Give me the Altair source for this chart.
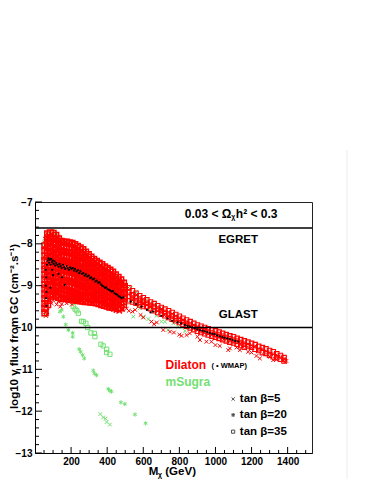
import altair as alt
import pandas as pd

# ---------------- data ----------------
# Dilaton, dense cloud: open squares, columns (GeV) -> log10 flux values
red_sq_cols = {
    55: [-8.05, -8.16, -8.29, -8.4, -8.52, -8.61, -8.74, -8.85, -8.97, -9.08, -9.2, -9.31, -9.43, -9.54, -9.65],
    70: [-7.76, -7.86, -7.98, -8.09, -8.21, -8.3, -8.43, -8.55, -8.66, -8.77, -8.89, -9.0, -9.12, -9.23, -9.35, -9.45],
    85: [-7.74, -7.85, -7.95, -8.07, -8.18, -8.3, -8.41, -8.52, -8.64, -8.75, -8.86, -8.98, -9.1, -9.22],
    100: [-7.75, -7.87, -7.97, -8.1, -8.2, -8.32, -8.44, -8.55, -8.67, -8.78, -8.9, -9.01, -9.12, -9.2],
    115: [-7.8, -7.9, -8.02, -8.13, -8.25, -8.36, -8.47, -8.58, -8.7, -8.81, -8.93, -9.04, -9.15, -9.25],
    130: [-7.88, -7.99, -8.1, -8.21, -8.33, -8.44, -8.56, -8.67, -8.78, -8.9, -9.01, -9.13, -9.22, -9.28],
    145: [-7.94, -8.05, -8.17, -8.28, -8.39, -8.5, -8.62, -8.73, -8.85, -8.96, -9.07, -9.19, -9.3],
    160: [-7.96, -8.07, -8.19, -8.3, -8.41, -8.53, -8.64, -8.75, -8.87, -8.98, -9.1, -9.21, -9.3],
    175: [-7.96, -8.08, -8.2, -8.31, -8.42, -8.54, -8.66, -8.77, -8.88, -9.0, -9.11, -9.22, -9.31],
    190: [-7.98, -8.09, -8.21, -8.33, -8.44, -8.55, -8.67, -8.78, -8.9, -9.01, -9.13, -9.24, -9.32],
    205: [-7.99, -8.1, -8.22, -8.34, -8.45, -8.57, -8.68, -8.8, -8.91, -9.03, -9.14, -9.25, -9.33],
    220: [-8.02, -8.13, -8.25, -8.36, -8.47, -8.59, -8.7, -8.82, -8.93, -9.04, -9.16, -9.27, -9.34],
    235: [-8.06, -8.17, -8.28, -8.4, -8.51, -8.62, -8.74, -8.85, -8.96, -9.08, -9.19, -9.3, -9.35],
    250: [-8.1, -8.21, -8.32, -8.44, -8.55, -8.66, -8.77, -8.89, -9.0, -9.11, -9.23, -9.36],
    265: [-8.14, -8.25, -8.36, -8.47, -8.58, -8.7, -8.81, -8.92, -9.03, -9.15, -9.26, -9.37],
    280: [-8.2, -8.31, -8.42, -8.53, -8.64, -8.75, -8.87, -8.98, -9.09, -9.2, -9.31, -9.38],
    295: [-8.26, -8.37, -8.48, -8.59, -8.7, -8.81, -8.92, -9.03, -9.14, -9.26, -9.38],
    310: [-8.32, -8.43, -8.54, -8.65, -8.76, -8.87, -8.98, -9.09, -9.2, -9.31, -9.39],
    325: [-8.37, -8.48, -8.59, -8.7, -8.81, -8.92, -9.03, -9.14, -9.25, -9.34, -9.4],
    340: [-8.42, -8.53, -8.64, -8.75, -8.86, -8.97, -9.08, -9.19, -9.3, -9.41],
    355: [-8.46, -8.57, -8.68, -8.79, -8.9, -9.01, -9.12, -9.23, -9.34, -9.43],
    370: [-8.5, -8.61, -8.72, -8.83, -8.94, -9.05, -9.16, -9.27, -9.37, -9.45],
    385: [-8.55, -8.66, -8.77, -8.88, -8.99, -9.1, -9.21, -9.32, -9.41, -9.47],
    400: [-8.59, -8.7, -8.81, -8.92, -9.03, -9.14, -9.25, -9.36, -9.49],
    415: [-8.63, -8.74, -8.85, -8.96, -9.07, -9.18, -9.29, -9.4, -9.51],
    430: [-8.68, -8.79, -8.9, -9.01, -9.12, -9.23, -9.34, -9.44, -9.52],
    445: [-8.74, -8.85, -8.96, -9.07, -9.18, -9.29, -9.4, -9.53],
    460: [-8.8, -8.91, -9.02, -9.13, -9.24, -9.35, -9.46, -9.54],
    475: [-8.86, -8.97, -9.08, -9.19, -9.3, -9.41, -9.53],
    490: [-8.94, -9.05, -9.16, -9.27, -9.38, -9.45],
}

# Dilaton, dense cloud: crosses between the square columns
red_x_cols = {
    62: [-7.9, -8.12, -8.35, -8.58, -8.8, -9.03, -9.25, -9.48, -9.62],
    77: [-7.8, -8.02, -8.25, -8.47, -8.7, -8.92, -9.15, -9.33],
    92: [-7.78, -8.0, -8.22, -8.44, -8.66, -8.88, -9.1, -9.2],
    107: [-7.82, -8.04, -8.26, -8.48, -8.7, -8.93, -9.15],
    122: [-7.86, -8.08, -8.3, -8.52, -8.74, -8.96, -9.18],
    137: [-7.93, -8.15, -8.37, -8.59, -8.81, -9.03, -9.25],
    152: [-7.97, -8.19, -8.41, -8.63, -8.85, -9.07, -9.28],
    167: [-7.98, -8.2, -8.42, -8.64, -8.86, -9.08, -9.29],
    182: [-8.0, -8.22, -8.44, -8.66, -8.88, -9.1, -9.3],
    197: [-8.02, -8.24, -8.46, -8.68, -8.9, -9.12, -9.32],
    212: [-8.04, -8.26, -8.48, -8.7, -8.92, -9.14, -9.33],
    227: [-8.07, -8.29, -8.51, -8.73, -8.95, -9.17, -9.34],
    242: [-8.11, -8.33, -8.55, -8.77, -8.99, -9.21, -9.35],
    257: [-8.15, -8.37, -8.59, -8.81, -9.03, -9.25, -9.36],
    272: [-8.2, -8.42, -8.64, -8.86, -9.08, -9.3],
    287: [-8.26, -8.48, -8.7, -8.92, -9.14, -9.36],
    302: [-8.32, -8.54, -8.76, -8.98, -9.2, -9.38],
    317: [-8.38, -8.6, -8.82, -9.04, -9.26, -9.4],
    332: [-8.43, -8.65, -8.87, -9.09, -9.31],
    347: [-8.47, -8.69, -8.91, -9.13, -9.35],
    362: [-8.51, -8.73, -8.95, -9.17, -9.39],
    377: [-8.56, -8.78, -9.0, -9.22, -9.44],
    392: [-8.6, -8.82, -9.04, -9.26, -9.48],
    407: [-8.64, -8.86, -9.08, -9.3, -9.5],
    422: [-8.69, -8.91, -9.13, -9.35, -9.52],
    437: [-8.74, -8.96, -9.18, -9.4, -9.55],
    452: [-8.8, -9.02, -9.24, -9.46, -9.58],
    467: [-8.86, -9.08, -9.3, -9.5, -9.6],
    482: [-8.93, -9.15, -9.37, -9.55],
}

# Dilaton, high-mass band: open squares
red_band_cols = {
    500: [-9.0, -9.1, -9.2, -9.32], 520: [-9.05, -9.15, -9.26, -9.36],
    540: [-9.12, -9.22, -9.3, -9.39], 560: [-9.18, -9.27, -9.36, -9.42],
    580: [-9.24, -9.32, -9.4, -9.46], 600: [-9.29, -9.37, -9.45, -9.5],
    620: [-9.34, -9.42, -9.5], 640: [-9.39, -9.47, -9.55], 660: [-9.43, -9.51, -9.6],
    680: [-9.48, -9.56, -9.64], 700: [-9.52, -9.6, -9.68], 720: [-9.56, -9.64, -9.72],
    740: [-9.6, -9.68, -9.76], 760: [-9.64, -9.72, -9.8], 780: [-9.69, -9.77, -9.84],
    800: [-9.73, -9.81, -9.88], 820: [-9.78, -9.86, -9.93], 840: [-9.82, -9.9, -9.97],
    860: [-9.86, -9.94, -10.01], 880: [-9.9, -9.98, -10.05], 900: [-9.94, -10.02, -10.09],
    920: [-9.97, -10.05, -10.12], 940: [-10.0, -10.08, -10.15], 960: [-10.03, -10.11, -10.18],
    980: [-10.06, -10.13, -10.21], 1000: [-10.08, -10.16, -10.23], 1020: [-10.11, -10.18, -10.26],
    1040: [-10.14, -10.21, -10.29], 1060: [-10.17, -10.24, -10.32], 1080: [-10.2, -10.27, -10.35],
    1100: [-10.22, -10.3, -10.37], 1120: [-10.26, -10.33, -10.4], 1140: [-10.29, -10.36, -10.43],
    1160: [-10.32, -10.4, -10.47], 1180: [-10.35, -10.44], 1200: [-10.38, -10.47],
    1220: [-10.41, -10.52], 1240: [-10.45, -10.55], 1260: [-10.48, -10.6],
    1280: [-10.51, -10.62], 1300: [-10.55, -10.66], 1320: [-10.58, -10.7],
    1340: [-10.63, -10.72], 1360: [-10.67, -10.76], 1380: [-10.72, -10.8],
}

# Dilaton, scattered crosses (band and below the cloud)
red_scatter_m = [510, 530, 545, 565, 590, 610, 635, 670, 695, 715, 745, 770, 805, 835, 865, 895, 930, 960,
                 990, 1015, 1045, 1070, 1105, 1135, 1150, 1170, 1195, 1215, 1235, 1255, 1270, 1290, 1310,
                 1330, 1350, 1370, 1385,
                 508, 520, 540, 555, 585, 600, 645, 660, 675, 711, 748, 770, 800, 812, 840, 858, 900, 914,
                 950, 978, 1000, 1024, 1071, 1080, 1117, 1135, 1181, 1200, 1227, 1246, 1301, 1320, 1338,
                 1384, 1393,
                 85, 92, 100, 110, 120, 130, 140, 148, 160, 175, 190, 205, 60, 66]
red_scatter_f = [-9.08, -9.2, -9.3, -9.22, -9.35, -9.43, -9.5, -9.58, -9.62, -9.7, -9.75, -9.82, -9.86, -9.92,
                 -9.98, -10.04, -10.1, -10.15, -10.2, -10.24, -10.28, -10.31, -10.35, -10.4, -10.46, -10.42,
                 -10.5, -10.46, -10.55, -10.52, -10.58, -10.6, -10.64, -10.68, -10.7, -10.78, -10.74,
                 -9.55, -9.6, -9.62, -9.58, -9.7, -9.76, -9.86, -9.92, -9.88, -10.06, -10.1, -10.12, -10.17,
                 -10.2, -10.18, -10.14, -10.22, -10.3, -10.34, -10.34, -10.42, -10.44, -10.54, -10.5, -10.48,
                 -10.54, -10.58, -10.6, -10.68, -10.74, -10.7, -10.78, -10.76, -10.82, -10.8,
                 -9.3, -9.42, -9.35, -9.3, -9.45, -9.38, -9.5, -9.44, -9.36, -9.42, -9.38, -9.45, -9.72, -9.68]

# Dilaton points compatible with WMAP (black dots)
wmap_m = [60, 62, 60, 63, 61, 64, 66,
          70, 75, 78, 82, 86, 90, 94, 98, 103, 108, 112, 118, 124, 130, 136, 142, 148, 155, 162, 168, 175,
          182, 188, 195, 202, 210, 216, 222, 230, 238, 245, 252, 260, 268, 275, 282, 290, 298, 305, 312,
          320, 328, 335, 342, 350, 358, 365, 372, 380, 388, 395, 402, 410, 418, 425, 432, 440, 448, 456,
          464, 472, 480, 490,
          150, 165, 100, 85, 130, 95,
          530, 560, 590, 620, 640, 655, 700, 735, 760, 790, 810, 830, 845, 858, 872, 885, 900, 914, 928,
          940, 955, 969, 982, 995, 1010, 1024, 1038, 1050, 1065, 1080, 1095, 1110, 1126]
wmap_f = [-8.62, -8.8, -9.0, -9.15, -9.3, -9.48, -8.5,
          -8.4, -8.35, -8.45, -8.38, -8.5, -8.36, -8.44, -8.4, -8.48, -8.42, -8.52, -8.46, -8.5, -8.55,
          -8.48, -8.53, -8.58, -8.5, -8.56, -8.6, -8.53, -8.58, -8.62, -8.56, -8.6, -8.58, -8.64, -8.6,
          -8.66, -8.63, -8.7, -8.66, -8.72, -8.7, -8.76, -8.73, -8.78, -8.76, -8.82, -8.8, -8.85, -8.83,
          -8.9, -8.88, -8.93, -8.92, -8.97, -9.0, -9.02, -9.05, -9.04, -9.08, -9.1, -9.12, -9.14, -9.13,
          -9.18, -9.2, -9.22, -9.25, -9.27, -9.3, -9.28,
          -8.8, -8.98, -8.75, -9.05, -8.72, -8.62,
          -9.38, -9.44, -9.5, -9.58, -9.64, -9.62, -9.72, -9.78, -9.84, -9.88, -9.9, -9.94, -9.96, -9.98,
          -10.0, -10.02, -10.04, -10.06, -10.08, -10.09, -10.11, -10.13, -10.15, -10.16, -10.19, -10.21,
          -10.23, -10.25, -10.26, -10.28, -10.3, -10.32, -10.34]

# mSugra (green): tan beta = 5 (crosses)
msugra5_m = [50, 51, 52, 54, 57, 62, 110, 120, 132, 138, 150, 175, 200, 222,
             470, 487, 500, 515, 530, 543, 560, 598, 618, 637, 655, 690,
             508, 535, 545, 572, 581, 600, 628, 674, 701, 720, 738, 766, 794, 831, 895,
             362, 378, 391, 397, 415]
msugra5_f = [-8.3, -8.7, -9.1, -9.45, -9.68, -9.72, -7.74, -7.76, -7.82, -7.88, -7.92, -7.94, -7.96, -8.0,
             -8.84, -9.02, -8.98, -9.1, -9.05, -9.3, -9.15, -9.35, -9.34, -9.55, -9.45, -9.55,
             -9.42, -9.38, -9.74, -9.5, -9.54, -9.74, -9.8, -9.72, -9.86, -9.86, -10.06, -9.9, -9.98,
             -10.08, -10.02,
             -12.07, -12.15, -12.18, -12.26, -12.32]
# tan beta = 20 (stars)
msugra20_m = [138, 148, 157, 170, 185, 209, 209, 245, 253, 264, 273, 323, 329, 341, 406, 415, 424,
              476, 498, 554, 613]
msugra20_f = [-9.62, -9.58, -9.74, -9.93, -10.06, -10.13, -10.22, -10.52, -10.58, -10.66, -10.74,
              -11.03, -11.1, -11.14, -11.47, -11.51, -11.53, -11.79, -11.83, -12.08, -12.29]
# tan beta = 35 (squares)
msugra35_m = [52, 56, 65, 100, 200, 212, 222, 232, 240, 258, 268, 282, 292, 310, 329, 332, 365, 378,
              397, 397, 415]
msugra35_f = [-8.05, -7.95, -7.78, -7.72, -9.35, -9.5, -9.56, -9.6, -9.66, -9.85, -9.86, -9.9, -10.0,
              -10.13, -10.14, -10.22, -10.4, -10.44, -10.52, -10.6, -10.64]

# sensitivity limits
limit_values = [-7.62, -10.0]

# axes
x_ticks_major = [200, 400, 600, 800, 1000, 1200, 1400]
y_ticks_major = [-13, -12, -11, -10, -9, -8, -7]

# ---------------- helpers ----------------
RED = "#ff0000"
GREEN = "#72e072"
FONT = "Liberation Sans"
CROSS = "M-1,-1L1,1M-1,1L1,-1"
STAR = "M0,-1L0,1M-0.87,-0.5L0.87,0.5M-0.87,0.5L0.87,-0.5"


def cols_df(cols):
    return pd.DataFrame([(m, f) for m, fs in cols.items() for f in fs], columns=["m", "f"])


def pairs_df(ms, fs):
    return pd.DataFrame({"m": ms, "f": fs})


X = alt.X("m:Q", scale=alt.Scale(domain=[0, 1535], nice=False, zero=False),
          axis=alt.Axis(values=x_ticks_major, title=None, ticks=False, grid=False, format="d",
                        labelPadding=3, labelFontSize=10))
Y = alt.Y("f:Q", scale=alt.Scale(domain=[-13, -7], nice=False, zero=False),
          axis=alt.Axis(values=y_ticks_major, ticks=False, grid=False, labelPadding=3,
                        labelFontSize=10,
                        title="log10 γ flux from GC (cm⁻².s⁻¹)",
                        titleFontSize=11.5, titleX=-21, titleY=124, titleAngle=-90,
                        titleAlign="center", titleBaseline="middle"))


def pts(df, shape, color, size, filled=False, sw=1.0):
    return alt.Chart(df).mark_point(shape=shape, filled=filled, size=size, color=color,
                                    strokeWidth=sw, opacity=1).encode(x=X, y=Y)


green_layers = [
    pts(pairs_df(msugra5_m, msugra5_f), CROSS, GREEN, 14),
    pts(pairs_df(msugra20_m, msugra20_f), STAR, GREEN, 18),
    pts(pairs_df(msugra35_m, msugra35_f), "square", GREEN, 18),
]
red_layers = [
    pts(cols_df(red_sq_cols), "square", RED, 34, sw=1.5),
    pts(cols_df(red_x_cols), CROSS, RED, 30, sw=1.4),
    pts(cols_df(red_band_cols), "square", RED, 20, sw=1.1),
    pts(pairs_df(red_scatter_m, red_scatter_f), CROSS, RED, 14),
]
black_layer = pts(pairs_df(wmap_m, wmap_f), "circle", "black", 5, filled=True)

limits = alt.Chart(pd.DataFrame({"f": limit_values})).mark_rule(color="black", strokeWidth=1.5).encode(y=Y)

# inward ticks
y_minor = [v / 10 for v in range(-130, -69, 2) if v % 10 != 0]
x_minor = [v for v in range(50, 1535, 50) if v % 200 != 0]
ytick_major = alt.Chart(pd.DataFrame({"f": y_ticks_major})).mark_rule(color="black").encode(
    y=Y, x=alt.value(0), x2=alt.value(7))
ytick_minor = alt.Chart(pd.DataFrame({"f": y_minor})).mark_rule(color="black").encode(
    y=Y, x=alt.value(0), x2=alt.value(4))
xtick_major = alt.Chart(pd.DataFrame({"m": x_ticks_major})).mark_rule(color="black").encode(
    x=X, y=alt.value(251), y2=alt.value(245))
xtick_minor = alt.Chart(pd.DataFrame({"m": x_minor})).mark_rule(color="black").encode(
    x=X, y=alt.value(251), y2=alt.value(248))

# annotations
ann = pd.DataFrame([
    {"m": 1126, "f": -7.91, "t": "EGRET", "c": "black", "s": 11.5, "a": "center"},
    {"m": 1126, "f": -9.70, "t": "GLAST", "c": "black", "s": 11.5, "a": "center"},
    {"m": 723, "f": -10.90, "t": "Dilaton", "c": RED, "s": 12, "a": "left"},
    {"m": 723, "f": -11.30, "t": "mSugra", "c": GREEN, "s": 12, "a": "left"},
    {"m": 978, "f": -10.93, "t": "( • WMAP)", "c": "black", "s": 7.5, "a": "left"},
    {"m": 1135, "f": -11.71, "t": "tan β=5", "c": "black", "s": 11.5, "a": "left"},
    {"m": 1135, "f": -12.09, "t": "tan β=20", "c": "black", "s": 11.5, "a": "left"},
    {"m": 1135, "f": -12.49, "t": "tan β=35", "c": "black", "s": 11.5, "a": "left"},
    {"m": 830, "f": -7.29, "t": "0.03 < Ω", "c": "black", "s": 12, "a": "left"},
    {"m": 1087, "f": -7.37, "t": "χ", "c": "black", "s": 7, "a": "left"},
    {"m": 1113, "f": -7.29, "t": "h² <  0.3", "c": "black", "s": 12, "a": "left"},
    {"m": 631, "f": -13.46, "t": "M", "c": "black", "s": 11.5, "a": "left"},
    {"m": 680, "f": -13.53, "t": "χ", "c": "black", "s": 7.5, "a": "left"},
    {"m": 722, "f": -13.46, "t": "(GeV)", "c": "black", "s": 11.5, "a": "left"},
])
text_layers = []
for _, r in ann.iterrows():
    text_layers.append(
        alt.Chart(pd.DataFrame([r])).mark_text(font=FONT, fontWeight="bold", fontSize=float(r["s"]),
                                                color=r["c"], align=r["a"], baseline="middle")
        .encode(x=X, y=Y, text="t:N"))

leg = pd.DataFrame({"m": [1098, 1098, 1098], "f": [-11.71, -12.09, -12.49]})
legend_marks = [
    alt.Chart(leg.iloc[[0]]).mark_point(shape=CROSS, size=10, color="black", strokeWidth=1).encode(x=X, y=Y),
    alt.Chart(leg.iloc[[1]]).mark_point(shape=STAR, size=16, color="black", strokeWidth=1.1).encode(x=X, y=Y),
    alt.Chart(leg.iloc[[2]]).mark_point(shape="square", size=10, color="black", strokeWidth=1).encode(x=X, y=Y),
]

# faint page separator on the right
sep = alt.Chart(pd.DataFrame({"k": [0]})).mark_rule(color="#ececec", strokeWidth=1).encode(
    x=alt.value(312), y=alt.value(-52), y2=alt.value(282))

chart = alt.layer(
    sep, *green_layers, *red_layers, black_layer, limits,
    ytick_major, ytick_minor, xtick_major, xtick_minor,
    *text_layers, *legend_marks,
).properties(
    width=277, height=251,
    autosize=alt.AutoSizeParams(type="none"),
    padding={"left": 27, "top": 194, "right": 50, "bottom": 26},
).configure_view(
    stroke="#222222", strokeWidth=1
).configure_axis(
    domainColor="black", domainWidth=1, labelFont=FONT, labelFontWeight="bold",
    labelColor="black", titleFont=FONT, titleFontWeight="bold", titleColor="black",
)

chart.save("out.html", embed_options={"renderer": "svg", "actions": False})
